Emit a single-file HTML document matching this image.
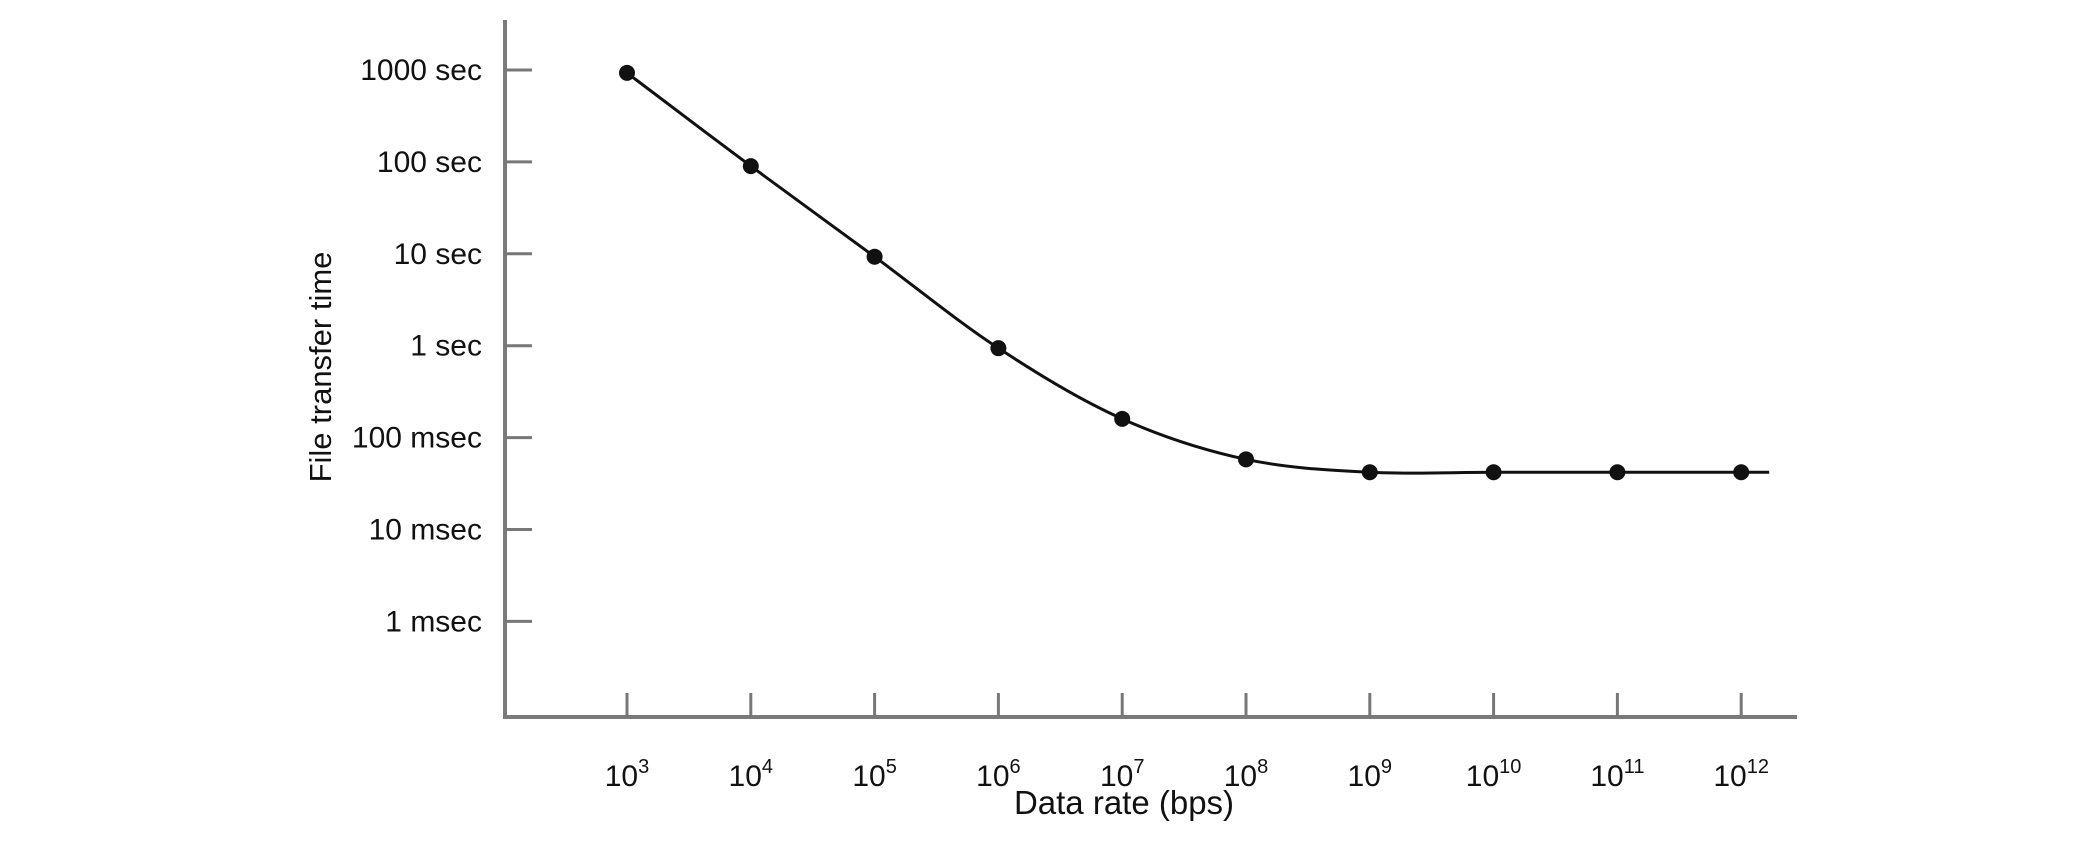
<!DOCTYPE html>
<html><head><meta charset="utf-8"><style>
html,body{margin:0;padding:0;background:#fff;}
svg{display:block;font-family:"Liberation Sans",sans-serif;}
</style></head><body>
<svg id="chart" width="2093" height="853" viewBox="0 0 2093 853" xmlns="http://www.w3.org/2000/svg">
<g id="axes"></g>
<g id="series"></g>
<text x="0" y="0" font-size="31" fill="#111" text-anchor="middle" transform="translate(331,367) rotate(-90)">File transfer time</text>
<text x="1124" y="814" font-size="33" fill="#111" text-anchor="middle">Data rate (bps)</text>
</svg>
<script>
const xExponents = [3,4,5,6,7,8,9,10,11,12];
const yTickLabels = ["1000 sec","100 sec","10 sec","1 sec","100 msec","10 msec","1 msec"];
const yTickValues = [1000,100,10,1,0.1,0.01,0.001];
const transferTimes = [930,90,9.3,0.94,0.16,0.058,0.042,0.042,0.042,0.042];

const NS="http://www.w3.org/2000/svg";
function xPos(e){return 627+(e-3)*123.8;}
function yPos(v){return 70+(3-Math.log10(v))*91.9;}
function mk(tag,attrs,parent){const el=document.createElementNS(NS,tag);for(const k in attrs)el.setAttribute(k,attrs[k]);parent.appendChild(el);return el;}
const axes=document.getElementById('axes'), series=document.getElementById('series');
let el;
el=mk('line',{x1:505,y1:20,x2:505,y2:719,stroke:'#7a7a7a','stroke-width':4},axes);


el=mk('line',{x1:503,y1:717,x2:1797,y2:717,stroke:'#7a7a7a','stroke-width':4},axes);


yTickValues.forEach((v,i)=>{
  const y=yPos(v);
  let t=mk('line',{x1:505,y1:y,x2:532,y2:y,stroke:'#777','stroke-width':3},axes);
  
  
  let tx=mk('text',{x:482,y:y+10,'font-size':30,'text-anchor':'end',fill:'#111'},axes);
  tx.textContent=yTickLabels[i];
  
  
});
xExponents.forEach(e=>{
  const x=xPos(e);
  let t=mk('line',{x1:x,y1:717,x2:x,y2:693,stroke:'#777','stroke-width':3},axes);
  
  
  let tx=mk('text',{x:x,y:786,'font-size':30,'text-anchor':'middle',fill:'#111'},axes);
  
  
  const a=document.createElementNS(NS,'tspan');a.textContent='10';tx.appendChild(a);
  const b=document.createElementNS(NS,'tspan');b.textContent=String(e);b.setAttribute('font-size','20');b.setAttribute('dy','-13');tx.appendChild(b);
});
const pts=transferTimes.map((v,i)=>[xPos(xExponents[i]),yPos(v)]);
let d='M'+pts[0][0]+','+pts[0][1];
for(let i=0;i<pts.length-1;i++){
  const p0=pts[Math.max(0,i-1)],p1=pts[i],p2=pts[i+1],p3=pts[Math.min(pts.length-1,i+2)];
  const c1=[p1[0]+(p2[0]-p0[0])/6,p1[1]+(p2[1]-p0[1])/6];
  const c2=[p2[0]-(p3[0]-p1[0])/6,p2[1]-(p3[1]-p1[1])/6];
  d+=` C${c1[0]},${c1[1]} ${c2[0]},${c2[1]} ${p2[0]},${p2[1]}`;
}
const last=pts[pts.length-1];
d+=` L${last[0]+28},${last[1]}`;
el=mk('path',{d:d,fill:'none',stroke:'#111','stroke-width':3},series);


pts.forEach(p=>{
  let c=mk('circle',{cx:p[0],cy:p[1],r:8,fill:'#111'},series);
  
  
});
</script>
</body></html>
